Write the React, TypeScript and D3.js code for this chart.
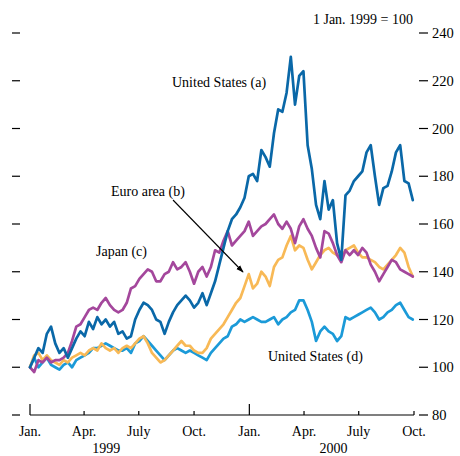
import React from "react";
import * as d3 from "d3";

// weekly readings, 1 Jan. 1999 = 100
const usA = [
  100, 104, 108, 106, 114, 117, 110, 106, 108, 104, 108, 112, 115, 113, 119, 116,
  121, 118, 120, 117, 119, 114, 115, 112, 113, 120, 124, 127, 126, 124, 120, 119,
  114, 119, 123, 126, 128, 130, 128, 125, 127, 131, 126, 131, 136, 143, 150, 157,
  162, 164, 167, 171, 180, 181, 178, 191, 188, 184, 198, 208, 207, 215, 230, 210,
  222, 224, 193, 183, 168, 162, 178, 166, 170, 152, 145, 172, 174, 178, 180, 182,
  190, 193, 180, 168, 175, 176, 182, 190, 193, 178, 177, 170,
];
const japan = [
  100, 98, 103, 102, 104, 102, 103, 103, 104, 106, 111, 117, 118, 121, 124, 125,
  124, 127, 129, 126, 124, 123, 124, 127, 133, 134, 137, 139, 141, 140, 136, 136,
  139, 140, 144, 141, 142, 144, 140, 135, 140, 142, 138, 142, 149, 148, 153, 157,
  151, 153, 155, 157, 161, 155, 157, 159, 160, 162, 164, 160, 158, 161, 158, 152,
  159, 162, 158, 155, 150, 146, 157, 156, 152, 147, 144, 149, 147, 149, 147, 150,
  148, 143, 140, 136, 139, 142, 145, 144, 141, 140, 139, 138,
];
const euro = [
  100, 105, 106, 103, 105, 103, 102, 101, 103, 102, 104, 105, 106, 105, 107, 108,
  107, 110, 108, 107, 108, 106, 108, 109, 108, 110, 112, 113, 110, 106, 104, 102,
  103, 105, 107, 109, 111, 109, 109, 107, 106, 106, 108, 112, 114, 116, 118, 121,
  124, 127, 129, 134, 139, 133, 135, 140, 138, 134, 142, 145, 146, 151, 155, 149,
  151, 150, 145, 141, 144, 147, 149, 150, 148, 147, 146, 149, 150, 151, 148, 146,
  146, 145, 144, 142, 141, 143, 145, 147, 150, 148, 142, 138,
];
const usD = [
  100, 104, 100, 102, 104, 101, 100, 99, 101, 102, 100, 103, 104, 105, 106, 108,
  108, 109, 110, 109, 108, 107, 107, 108, 106, 110, 111, 113, 111, 109, 107, 105,
  103, 105, 107, 108, 107, 106, 107, 106, 105, 104, 103, 106, 108, 110, 112, 113,
  117, 118, 120, 119, 120, 121, 120, 119, 119, 120, 121, 118, 120, 121, 123, 124,
  128, 128, 124, 119, 111, 115, 117, 115, 114, 111, 113, 121, 120, 121, 122, 123,
  124, 125, 123, 120, 121, 123, 124, 126, 127, 124, 121, 120,
];

const yTicks = [80, 100, 120, 140, 160, 180, 200, 220, 240];
const monthTicks = ["Jan.", "Apr.", "July", "Oct.", "Jan.", "Apr.", "July", "Oct."];
const years = ["1999", "2000"];

const series = [
  { name: "usD", values: usD, color: "#1b9ad8" },
  { name: "euro", values: euro, color: "#f8b956" },
  { name: "japan", values: japan, color: "#a4479c" },
  { name: "usA", values: usA, color: "#0a68a8" },
];

const FONT = "'Liberation Serif', 'DejaVu Serif', serif";

export default function App() {
  const width = 460;
  const height = 456;
  const start = new Date(1999, 0, 1);
  const x = d3.scaleTime().domain([start, new Date(2000, 9, 1)]).range([30, 414]);
  const y = d3.scaleLinear().domain([80, 240]).range([415, 33]);
  const week = (i: number) => d3.timeDay.offset(start, i * 7);

  const line = d3
    .line<number>()
    .x((_, i) => x(week(i)))
    .y((d) => y(d));

  const tickDates = monthTicks.map((_, i) => d3.timeMonth.offset(start, i * 3));
  const axisY = y(80);
  // year labels sit roughly in the middle of the first half of each year
  const yearDates = [new Date(1999, 4, 8), new Date(2000, 4, 20)];

  return (
    <svg
      width={width}
      height={height}
      style={{ position: "absolute", left: 0, top: 0, background: "#fff" }}
      fontFamily={FONT}
    >
      <defs>
        <marker id="arrow" viewBox="0 0 10 10" refX="9" refY="5" markerWidth="7" markerHeight="7" orient="auto">
          <path d="M0,1.5 L10,5 L0,8.5 z" fill="#000" />
        </marker>
      </defs>

      {/* y ticks, both sides */}
      {yTicks.map((t) => (
        <g key={t}>
          <line x1={12} x2={20} y1={y(t)} y2={y(t)} stroke="#000" strokeWidth={1.2} />
          <line x1={419} x2={428} y1={y(t)} y2={y(t)} stroke="#000" strokeWidth={1.2} />
          <text x={432} y={y(t)} dy="0.35em" fontSize={14.5} fill="#000">
            {t}
          </text>
        </g>
      ))}

      <text x={413} y={24} textAnchor="end" fontSize={14} fill="#000">
        1 Jan. 1999 = 100
      </text>

      {/* series */}
      {series.map((s) => (
        <path
          key={s.name}
          d={line(s.values) ?? ""}
          fill="none"
          stroke={s.color}
          strokeWidth={2.7}
          strokeLinejoin="round"
          strokeLinecap="round"
        />
      ))}

      {/* x axis */}
      <line x1={x(tickDates[0])} x2={x(tickDates[7])} y1={axisY} y2={axisY} stroke="#000" strokeWidth={1.2} />
      {tickDates.map((d, i) => (
        <g key={i}>
          <line
            x1={x(d)}
            x2={x(d)}
            y1={axisY}
            y2={axisY - (i % 4 === 0 ? 11 : 4)}
            stroke="#000"
            strokeWidth={1.2}
          />
          <text x={x(d)} y={436} textAnchor="middle" fontSize={14} fill="#000">
            {monthTicks[i]}
          </text>
        </g>
      ))}
      {years.map((yr, i) => (
        <text key={yr} x={x(yearDates[i])} y={453} textAnchor="middle" fontSize={14} fill="#000">
          {yr}
        </text>
      ))}

      {/* annotations */}
      <text x={172} y={87} fontSize={14} fill="#000">United States (a)</text>
      <text x={111} y={196} fontSize={14} fill="#000">Euro area (b)</text>
      <text x={96} y={256} fontSize={14} fill="#000">Japan (c)</text>
      <text x={268} y={361} fontSize={14} fill="#000">United States (d)</text>
      <line x1={173} y1={200} x2={243} y2={272} stroke="#000" strokeWidth={1.1} markerEnd="url(#arrow)" />
    </svg>
  );
}
